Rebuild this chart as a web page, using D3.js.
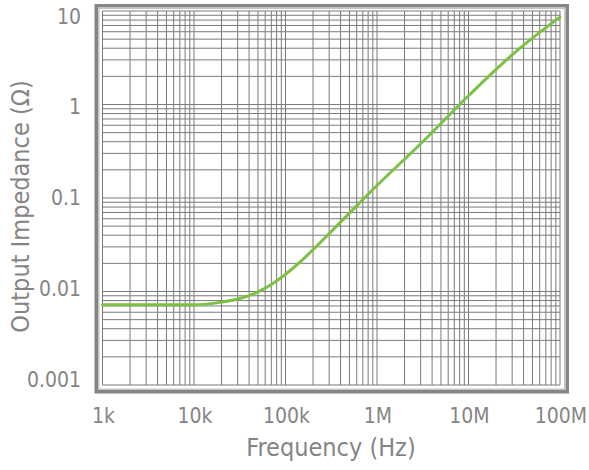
<!DOCTYPE html>
<html>
<head>
<meta charset="utf-8">
<script src="https://cdn.jsdelivr.net/npm/d3@7"></script>
<style>
  body { margin: 0; background: #fff; }
  text { font-family: 'DejaVu Sans Condensed', 'DejaVu Sans', sans-serif; fill: #858585; }
</style>
</head>
<body>
<div id="chart-area"></div>
<script>
// Data
const frequencies = [1e3, 5e3, 1e4, 2e4, 3e4, 5e4, 7e4, 1e5, 1.5e5, 2e5, 5e5, 1e6, 3e6, 1e7, 3e7, 6e7, 1e8];
const impedances = [0.0072, 0.0072, 0.0072, 0.0077, 0.0083, 0.0099, 0.0119, 0.0153, 0.0214, 0.028, 0.069, 0.136, 0.38, 1.24, 3.4, 5.9, 8.6];
const xTicks = [1e3, 1e4, 1e5, 1e6, 1e7, 1e8];
const xTickLabels = ['1k', '10k', '100k', '1M', '10M', '100M'];
const yTicks = [0.001, 0.01, 0.1, 1, 10];
const yTickLabels = ['0.001', '0.01', '0.1', '1', '10'];

const canvasWidth = 589;
const canvasHeight = 470;
const plot = { left: 102.5, right: 560, top: 11, bottom: 385 };

const svg = d3
  .select('#chart-area')
  .append('svg')
  .attr('width', canvasWidth)
  .attr('height', canvasHeight);

const xScale = d3.scaleLog().domain([1e3, 1e8]).range([plot.left, plot.right]);
const yScale = d3.scaleLog().domain([0.001, 10]).range([plot.bottom, plot.top]);
// tick labels sit slightly inside the decade lines
const yLabelScale = d3.scaleLog().domain([0.001, 10]).range([379.5, 16]);

// Frame
svg
  .append('rect')
  .attr('x', 96.25)
  .attr('y', 5.75)
  .attr('width', 471)
  .attr('height', 386)
  .attr('fill', 'none')
  .attr('stroke', '#858585')
  .attr('stroke-width', 3.5);
svg
  .append('rect')
  .attr('x', 98.75)
  .attr('y', 8.25)
  .attr('width', 466)
  .attr('height', 381)
  .attr('fill', 'none')
  .attr('stroke', '#c4c4c4')
  .attr('stroke-width', 1.5);

// Grid
const minorX = [];
for (let e = 3; e < 8; e++) for (let m = 1; m < 10; m++) minorX.push(m * 10 ** e);
minorX.push(1e8);
const minorY = [];
for (let e = -3; e < 1; e++) for (let m = 1; m < 10; m++) minorY.push(m * 10 ** e);
minorY.push(10);

const grid = svg.append('g').attr('stroke', '#7a7a7a').attr('stroke-width', 1);
grid
  .selectAll('line.vx')
  .data(minorX)
  .enter()
  .append('line')
  .attr('class', 'vx')
  .attr('x1', d => xScale(d))
  .attr('x2', d => xScale(d))
  .attr('y1', plot.top)
  .attr('y2', plot.bottom);
grid
  .selectAll('line.hy')
  .data(minorY)
  .enter()
  .append('line')
  .attr('class', 'hy')
  .attr('x1', plot.left)
  .attr('x2', plot.right)
  .attr('y1', d => yScale(d))
  .attr('y2', d => yScale(d));

// Curve
const points = frequencies.map((f, i) => ({ f, z: impedances[i] }));
const line = d3
  .line()
  .x(d => xScale(d.f))
  .y(d => yScale(d.z))
  .curve(d3.curveMonotoneX);
svg
  .append('path')
  .datum(points)
  .attr('d', line)
  .attr('fill', 'none')
  .attr('stroke', '#7cc143')
  .attr('stroke-width', 3)
  .attr('stroke-linecap', 'round');

// X-Axis labels
svg
  .selectAll('text.xtick')
  .data(xTicks)
  .enter()
  .append('text')
  .attr('class', 'xtick')
  .attr('x', d => xScale(d) + 1)
  .attr('y', 423)
  .attr('text-anchor', 'middle')
  .attr('font-size', '21px')
  .text((d, i) => xTickLabels[i]);

// Y-Axis labels
svg
  .selectAll('text.ytick')
  .data(yTicks)
  .enter()
  .append('text')
  .attr('class', 'ytick')
  .attr('x', 81)
  .attr('y', d => yLabelScale(d))
  .attr('dy', '0.36em')
  .attr('text-anchor', 'end')
  .attr('font-size', '21px')
  .text((d, i) => yTickLabels[i]);

// X-Axis-Label
svg
  .append('text')
  .attr('x', 331)
  .attr('y', 456)
  .attr('text-anchor', 'middle')
  .attr('font-size', '25px')
  .text('Frequency (Hz)');

// Y-Axis-Label
svg
  .append('text')
  .attr('transform', 'translate(29, 206.5) rotate(-90)')
  .attr('text-anchor', 'middle')
  .attr('font-size', '25px')
  .text('Output Impedance (Ω)');
</script>
</body>
</html>
